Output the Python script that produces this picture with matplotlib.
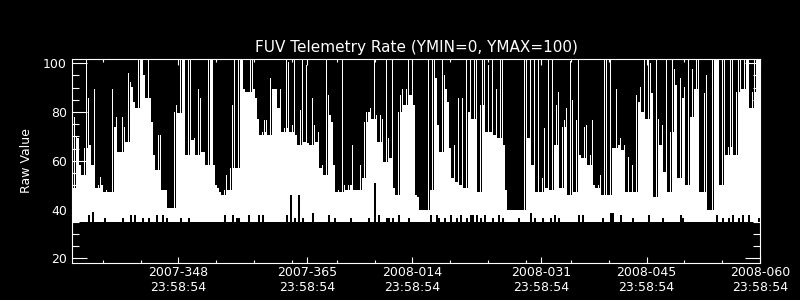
"""FUV telemetry rate plot (IDL-style, white on black)."""

import matplotlib
matplotlib.use("Agg")
import matplotlib.pyplot as plt
import numpy as np
from matplotlib.ticker import FixedLocator, MultipleLocator

# time axis: day-of-year counted from 2007-001 (so 2008-014 -> 379)
t_start = 333.93
dt = 0.26474          # width of one sample bin in days
floor_value = 35.0    # lowest raw value reported

# per-bin maximum raw value left to right
top_1 = [48.7, 78.0, 69.9, 69.2, 58.2, 54.1, 65.1, 102, 85.6, 66.4,
         58.2, 89.6, 48.7, 50.1, 53.5, 50.1, 47.3, 48.0, 47.3, 47.3,
         89.6, 73.9, 78.0, 63.7, 63.7, 78.0, 73.9, 67.8, 95.8, 92.4,
         90.3, 84.2, 81.5, 102, 102, 102, 95.1, 85.6, 102, 85.6,
         76.0, 62.3, 56.2, 70.5, 70.5, 48.0, 48.0, 48.0, 40.5, 40.5]
top_2 = [40.5, 80.1, 82.8, 79.4, 102, 102, 102, 62.3, 102, 102,
         68.5, 69.2, 62.3, 89.6, 85.6, 63.7, 63.7, 58.2, 102, 102,
         102, 58.2, 50.1, 48.7, 47.3, 45.9, 48.0, 54.1, 48.0, 56.9,
         82.8, 102, 56.9, 102, 102, 102, 89.6, 88.2, 88.2, 102,
         102, 89.6, 85.6, 77.3, 70.5, 71.9, 76.7, 76.7, 70.5]
top_3 = [93.8, 89.6, 89.6, 89.6, 81.5, 89.6, 71.9, 73.3, 102, 100.7,
         71.9, 74.6, 102, 70.5, 66.4, 80.8, 102, 67.8, 99.2, 67.1,
         66.4, 85.6, 74.6, 67.8, 71.9, 56.9, 58.2, 54.1, 102, 86.9,
         78.7, 76.0, 58.2, 47.3, 48.0, 47.3, 102, 50.1, 48.0, 50.1,
         50.1, 66.4, 48.0, 48.0, 48.0, 58.2, 52.8, 76.0, 80.1]
top_4 = [80.1, 81.5, 77.3, 102, 78.7, 67.8, 78.7, 77.3, 59.6, 102,
         69.2, 61.0, 102, 48.7, 45.9, 80.1, 86.9, 89.6, 82.8, 89.6,
         102, 86.9, 102, 82.8, 45.9, 45.2, 39.8, 39.8, 39.8, 39.8,
         102, 48.0, 102, 102, 93.8, 74.6, 63.7, 102, 95.1, 89.6,
         84.2, 65.1, 52.8, 66.4, 51.4, 85.6, 50.1, 85.6, 48.7]
top_5 = [102, 80.1, 102, 77.3, 102, 102, 47.3, 82.8, 102, 102,
         71.9, 99.2, 71.9, 102, 70.5, 89.6, 69.2, 102, 102, 66.4,
         48.0, 39.8, 39.8, 39.8, 39.8, 39.8, 39.8, 39.8, 39.8, 102,
         102, 69.2, 102, 58.2, 102, 47.3, 102, 47.3, 52.8, 73.3,
         48.7, 102, 48.0, 102, 66.4, 82.8, 88.2, 48.7, 73.9]
top_6 = [76.7, 81.5, 45.9, 101, 84.9, 47.3, 76.7, 102, 62.3, 61.0,
         73.9, 74.6, 58.2, 62.3, 76.7, 50.1, 48.7, 50.1, 54.1, 45.9,
         102, 102, 45.9, 102, 65.1, 65.1, 89.6, 66.4, 69.2, 64.4,
         66.4, 47.3, 61.6, 47.3, 58.2, 47.3, 86.9, 84.2, 90.3, 80.1,
         102, 77.3, 102, 100, 87.6, 45.2, 102, 77.3, 66.4]
top_7 = [74.6, 55.5, 102, 47.3, 71.9, 102, 97.8, 91.0, 52.8, 93.8,
         85.6, 90.3, 50.1, 102, 78.0, 97.8, 89.6, 102, 102, 47.3,
         47.3, 87.6, 95.1, 39.8, 39.8, 102, 102, 102, 102, 50.1,
         102, 102, 62.3, 65.7, 102, 102, 62.3, 88.2, 102, 102,
         89.6, 102, 102, 102, 81.5, 88.2, 102, 102, 102]

# bins where the minimum stays above the floor (dropouts near the bottom)
notch_day = [336.31, 336.84, 338.20, 340.72, 341.69, 342.40, 343.28, 344.01,
             345.31, 345.93, 346.46, 348.44, 349.41, 354.17, 355.19, 355.72,
             356.15, 357.38, 358.71, 359.16, 362.46, 362.90, 363.47, 363.86,
             364.49, 365.85, 367.92, 368.68, 370.80, 373.26, 373.92, 374.58,
             375.56, 375.90, 376.52, 377.22, 378.55, 381.42, 382.17, 382.61,
             383.40, 384.20, 384.90, 385.52, 386.14, 386.67, 386.93, 387.46,
             388.12, 388.52, 389.66, 390.32, 390.98, 393.19, 394.68, 395.31,
             396.36, 397.42, 397.78, 398.35, 401.09, 401.56, 404.26, 405.36,
             405.62, 406.68, 408.10, 410.21, 412.27, 414.48, 414.88, 419.42,
             420.17, 420.87, 421.46, 422.29, 422.82, 423.57, 424.84]
notch_level = [37.7, 39.0, 36.4, 36.4, 37.7, 37.7, 36.4, 36.4,
               37.7, 37.7, 36.4, 36.4, 36.4, 37.7, 37.7, 36.4,
               36.4, 37.7, 37.7, 37.7, 37.7, 46.0, 36.4, 46.0,
               36.4, 38.4, 37.7, 36.4, 36.4, 36.4, 51.0, 37.7,
               36.4, 36.4, 36.4, 37.7, 36.4, 37.7, 37.7, 36.4,
               36.4, 37.7, 36.4, 37.7, 36.4, 37.7, 37.7, 37.7,
               36.4, 37.7, 36.4, 37.7, 36.4, 36.4, 38.4, 36.4,
               36.4, 36.4, 37.7, 36.4, 37.7, 37.7, 36.4, 38.4,
               38.4, 37.7, 36.4, 37.7, 36.4, 37.7, 36.4, 37.7,
               36.4, 36.4, 37.7, 36.4, 37.7, 37.7, 36.4]

major_days = [348, 365, 379, 396, 410, 425]
major_labels = ["2007-348\n23:58:54", "2007-365\n23:58:54", "2008-014\n23:58:54",
                "2008-031\n23:58:54", "2008-045\n23:58:54", "2008-060\n23:58:54"]
minor_days = [338, 343, 353, 358, 363, 369, 374, 384, 389, 394,
              400, 405, 415, 420]

raw_top = np.array(top_1 + top_2 + top_3 + top_4 + top_5 + top_6 + top_7)
n = len(raw_top)
t = t_start + np.arange(n) * dt
raw_low = np.full(n, floor_value)
for d, lev in zip(notch_day, notch_level):
    i = int((d - t_start) / dt)
    if 0 <= i < n:
        raw_low[i] = lev

plt.rcParams["font.family"] = ["DejaVu Sans"]
fig = plt.figure(figsize=(8, 3), dpi=100, facecolor="black")
ax = fig.add_axes([0.09, 0.1243, 0.86, 0.678], facecolor="black")

# the peak of a bin only spans its first half; the whole bin is filled
# up to the lowest of it and its two neighbours, so isolated spikes stay
# thin while sustained stretches render solid
prev_top = np.insert(raw_top[:-1], 0, raw_top[0])
next_top = np.append(raw_top[1:], raw_top[-1])
shared_top = np.minimum(np.minimum(prev_top, next_top), raw_top)
shared_top = np.maximum(shared_top, raw_low)
ax.bar(t, shared_top - raw_low, bottom=raw_low, width=dt, align="edge",
       color="white", linewidth=0, antialiased=False, zorder=2)
ax.bar(t, raw_top - raw_low, bottom=raw_low, width=0.5 * dt, align="edge",
       color="white", linewidth=0, antialiased=False, zorder=2)

ax.set_xlim(t_start, 425.0)
ax.set_ylim(18.2, 101.6)

for s in ax.spines.values():
    s.set_color("white")
    s.set_linewidth(0.8)
    s.set_zorder(5)

ax.yaxis.set_major_locator(FixedLocator([20, 40, 60, 80, 100]))
ax.yaxis.set_minor_locator(MultipleLocator(5))
ax.xaxis.set_major_locator(FixedLocator(major_days))
ax.xaxis.set_minor_locator(FixedLocator(minor_days))
ax.set_xticklabels(major_labels)

ax.tick_params(axis="both", which="both", direction="in", colors="white",
               labelcolor="white", width=0.8, labelsize=9)
ax.tick_params(axis="y", which="major", length=10.8, pad=3.6,
               left=True, right=True)
ax.tick_params(axis="y", which="minor", length=5.0, left=True, right=True)
ax.tick_params(axis="x", which="major", length=4.0, pad=2.5,
               bottom=True, top=True)
ax.tick_params(axis="x", which="minor", length=2.2, bottom=True, top=True)

ax.set_ylabel("Raw Value", color="white", fontsize=9, labelpad=7)
fig.text(0.52, 0.843, "FUV Telemetry Rate (YMIN=0, YMAX=100)",
         color="white", fontsize=11, ha="center", va="center")

fig.savefig("out.png", dpi=100, facecolor="black")
plt.close(fig)
